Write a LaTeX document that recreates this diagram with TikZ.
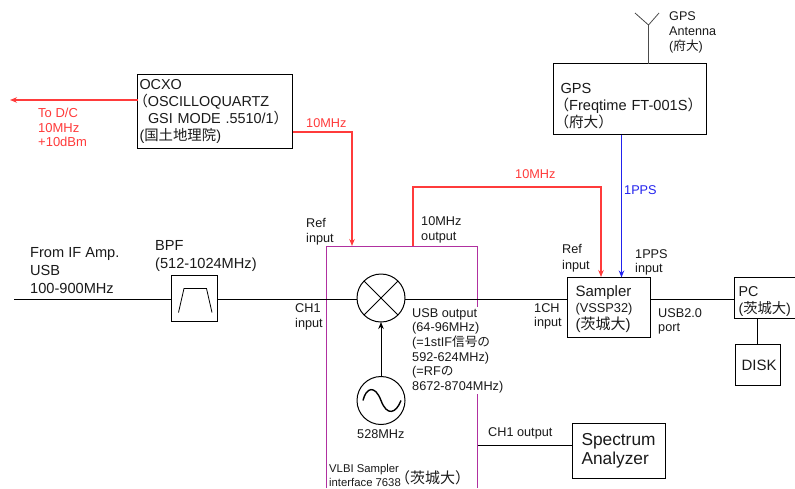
\documentclass[tikz,border=0pt]{standalone}
\usepackage{fontspec}
\setmainfont{Liberation Sans}
\newfontfamily\cjk{Noto Sans CJK JP}
\usetikzlibrary{arrows.meta}
\definecolor{txt}{HTML}{1A1A1A}
\definecolor{redl}{HTML}{FF3B3B}
\definecolor{bluel}{HTML}{2222EE}
\definecolor{magl}{HTML}{B030A0}
\newcommand{\fnt}[2]{\fontsize{#1}{#2}\selectfont}
\newcommand{\topgap}[1]{\rule{0pt}{#1pt}}
\tikzset{
 box/.style={draw=black,line width=1pt,inner ysep=0pt,outer sep=0pt,anchor=north west,align=left,text=txt},
 lab/.style={inner sep=0pt,anchor=north west,align=left,text=txt,font=\fnt{12.7}{14.7}},
 big/.style={inner sep=0pt,anchor=north west,align=left,text=txt,font=\fnt{14.6}{18}},
 wire/.style={draw=black,line width=1pt},
 redw/.style={draw=redl,line width=1.2pt},
 bluew/.style={draw=bluel,line width=1.2pt},
 head/.style={-{Stealth[length=7pt,width=5.5pt]}},
 circ/.style={draw=black,line width=1pt,circle,minimum size=48pt,inner sep=0pt,outer sep=0pt},
}
\begin{document}
\begin{tikzpicture}[x=1pt,y=-1pt]
\useasboundingbox (0,0) rectangle (795,488);
\fill[white] (0,0) rectangle (795,488);
% sampler interface outline
\draw[draw=magl,line width=1.3pt] (326.5,488) -- (326.5,246.5) -- (477.5,246.5) -- (477.5,488);
\coordinate (ifL) at (14,299.5);
\coordinate (dc) at (10,100);
\node[box,font=\fnt{14.4}{16.8},inner xsep=2pt,text width=151pt,minimum width=155pt,minimum height=74pt] (ocxo) at (137.5,74.5) {OCXO\\\mbox{\kern-6pt{\cjk（}OSCILLOQUARTZ}\\\mbox{\kern8.5pt GSI MODE .5510/1{\cjk）}}\\({\cjk 国土地理院})};
\node[box,font=\fnt{14.6}{17.3},inner xsep=7pt,text width=139pt,minimum width=153pt,minimum height=71pt] (gps) at (553.5,63.5) {\topgap{24}GPS\\\mbox{\kern-6pt{\cjk（}Freqtime FT-001S{\cjk）}}\\\mbox{\kern-6pt{\cjk（府大）}}};
\node[draw=black,line width=1pt,inner sep=0pt,outer sep=0pt,minimum width=46pt,minimum height=46pt,anchor=north west] (bpf) at (171.5,275.5) {};
\draw[line width=.8pt] ([shift={(7,37)}]bpf.north west) -- ([shift={(12.5,13)}]bpf.north west) -- ([shift={(35,13)}]bpf.north west) -- ([shift={(40.5,37)}]bpf.north west);
\node[circ] (mix) at (381,298) {};
\draw[line width=.8pt] (mix.45) -- (mix.225) (mix.135) -- (mix.315);
\node[circ] (osc) at (381,400.5) {};
\draw[line width=1.4pt] ([shift={(-18,0)}]osc.center) .. controls ([shift={(-15,-13)}]osc.center) and ([shift={(-6,-16)}]osc.center) .. (osc.center) .. controls ([shift={(6,16)}]osc.center) and ([shift={(15,13)}]osc.center) .. ([shift={(20,0)}]osc.center);
\node[box,font=\fnt{15}{15.5},inner xsep=8pt,text width=67pt,minimum width=83pt,minimum height=60pt] (samp) at (567.5,277.5) {\topgap{14}Sampler\\{\fnt{12.8}{16}(VSSP32)}\\[1.5pt]({\cjk 茨城大})};
\node[box,font=\fnt{14.3}{17},inner xsep=4pt,text width=53pt,minimum width=61pt,minimum height=41pt] (pc) at (734.5,277.5) {\topgap{17}PC\\({\cjk 茨城大})};
\node[box,font=\fnt{15}{17},inner xsep=6pt,text width=33pt,minimum width=45pt,minimum height=41pt] (disk) at (735.5,344.5) {DISK};
\node[box,font=\fnt{17.3}{19},inner xsep=9pt,text width=75pt,minimum width=93pt,minimum height=55pt] (spec) at (572.5,423.5) {Spectrum\\Analyzer};
% connectors
\draw[wire] (ifL) -- (bpf.west |- ifL);
\draw[wire] (bpf.east |- ifL) -- (mix.west |- ifL);
\draw[wire] (mix.east |- ifL) -- (samp.west |- ifL);
\draw[wire] (samp.east |- ifL) -- (pc.west |- ifL);
\draw[wire] (pc.south -| 757.5,0) -- (disk.north -| 757.5,0);
\draw[wire,head] (osc.north) -- (mix.south);
\coordinate (ant) at (648.5,25);
\coordinate (antL) at (635,13);
\coordinate (antR) at (659,13);
\draw[wire,draw=black!70] (gps.north -| ant) -- (ant);
\draw[wire,draw=black!70,line width=.8pt] (antL) -- (ant) -- (antR);
\coordinate (tapS) at (477.5,445.5);
\draw[wire] (tapS) -- (spec.west |- tapS);
\draw[redw,head] (ocxo.west |- dc) -- (dc);
\coordinate (inMix) at (352,246);
\coordinate (outTop) at (413,246);
\coordinate (inSamp) at (601,277);
\draw[redw,head] ([yshift=16.5pt]ocxo.south east) -| (inMix);
\draw[redw,head] (outTop) |- (500,187) -| (inSamp);
\draw[bluew,head] (gps.south -| 621.5,0) -- (samp.north -| 621.5,0);
% labels
\node[lab,text=redl,font=\fnt{13}{14.6}] (todc) at (38,108) {To D/C\\10MHz\\+10dBm};
\node[lab,text=redl] (rf1) at (306,118) {10MHz};
\node[lab,text=redl] (rf2) at (515,169) {10MHz};
\node[lab,text=bluel] (pps) at (624,185) {1PPS};
\node[big] (ifl) at (30,247) {From IF Amp.\\USB\\100-900MHz};
\node[big] (bpfl) at (155,240) {BPF\\(512-1024MHz)};
\node[lab] (ref1) at (306,218) {Ref\\input};
\node[lab,font=\fnt{12.7}{15.7}] (out10) at (421,216) {10MHz\\output};
\node[lab,font=\fnt{12.7}{15.7}] (ref2) at (562,244) {Ref\\input};
\node[lab] (ppsi) at (635,249) {1PPS\\input};
\node[lab,font=\fnt{12.7}{15.7}] (ch1i) at (295,303) {CH1\\input};
\node[lab] (ch1j) at (534,303) {1CH\\input};
\node[lab] (usbp) at (658,308) {USB2.0\\port};
\node[lab,fill=white,inner sep=1pt] (usbo) at (411,307) {USB output\\(64-96MHz)\\(={}1stIF{\cjk 信号の}\\592-624MHz)\\(={}RF{\cjk の}\\8672-8704MHz)};
\node[lab] (lo) at (357,429) {528MHz};
\node[lab] (ch1o) at (488,427) {CH1 output};
\node[lab,font=\fnt{12.6}{15}] (ant1) at (669,11) {GPS\\Antenna\\({\cjk 府大})};
\node[lab,font=\fnt{11.3}{13.5}] (vlbi) at (329,464.5) {VLBI Sampler\\interface 7638};
\node[lab,font=\fnt{15}{15}] (vlbi2) at (395,470) {{\cjk（茨城大）}};
\end{tikzpicture}
\end{document}
